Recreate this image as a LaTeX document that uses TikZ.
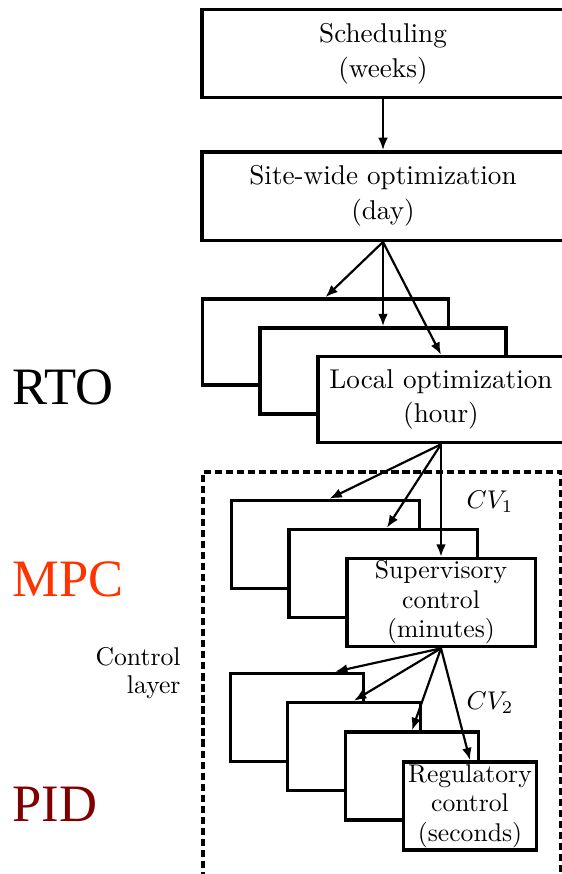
\documentclass[tikz,border=0pt]{standalone}
\usepackage{fontspec}
\usepackage{xcolor}
\usepackage{tikz}
\usepackage{amsmath}
\newfontfamily\levelfont{Liberation Serif}
\definecolor{mpcred}{RGB}{255, 51, 0}
\definecolor{pidred}{RGB}{128, 0, 0}
\usetikzlibrary{arrows.meta, calc}

\begin{document}
\begin{tikzpicture}[
    x=0.39pt, y=-0.39pt,
    box/.style={rectangle, draw, line width=1.35pt, fill=white, inner sep=0pt, align=center},
    topbox/.style={box, minimum width=141.2pt, minimum height=34.5pt, font=\fontsize{10.6}{13.7}\selectfont},
    rtobox/.style={box, minimum width=96pt, minimum height=33.6pt, font=\fontsize{10.6}{13.3}\selectfont},
    mpcbox/.style={box, minimum width=73.5pt, minimum height=34.4pt, font=\fontsize{10}{11.5}\selectfont},
    pidbox/.style={box, minimum width=51.8pt, minimum height=34.4pt, font=\fontsize{10}{11.5}\selectfont},
    link/.style={-{Latex[length=4.8pt, width=3.8pt]}, line width=0.85pt},
    levellabel/.style={font=\levelfont\fontsize{20.5}{24}\selectfont, anchor=west, inner sep=0pt},
    ctrlframe/.style={line width=1.3pt, dash pattern=on 2.8pt off 1.5pt}
]
    \useasboundingbox (0,0) rectangle (562,874);

    \draw[ctrlframe] (203,890) -- (203,472) -- (561,472) -- (561,890);

    \node[topbox] (sched) at (383, 53.5) {Scheduling\\(weeks)};
    \node[topbox] (site) at (383, 196) {Site-wide optimization\\(day)};

    \node[rtobox] (rtoA) at (325.5, 342) {};
    \node[rtobox] (rtoB) at (383, 371) {};
    \node[rtobox] (local) at (441, 399.5) {Local optimization\\(hour)};

    \node[mpcbox] (mpcA) at (325.5, 544.5) {};
    \node[mpcbox] (mpcB) at (383, 573.5) {};
    \node[mpcbox] (superv) at (441, 602.5) {Supervisory\\control\\(minutes)};

    \node[pidbox] (pidA) at (297, 717.5) {};
    \node[pidbox] (pidB) at (354, 746.5) {};
    \node[pidbox] (pidC) at (412, 776) {};
    \node[pidbox] (reg) at (470, 806) {Regulatory\\control\\(seconds)};

    \draw[link] (sched.south) -- (site.north);

    \draw[link] (site.south) -- (rtoA.north);
    \draw[link] (site.south) -- (rtoB.north);
    \draw[link] (site.south) -- (local.north);

    \draw[link] (local.south) -- ($(mpcA.north)+(4,0)$);
    \draw[link] (local.south) -- ($(mpcB.north)+(4,0)$);
    \draw[link] (local.south) -- (superv.north);

    \draw[link] (superv.south) -- ($(pidA.north west)!0.78!(pidA.north east)$);
    \draw[link] (superv.south) -- (pidB.north);
    \draw[link] (superv.south) -- (pidC.north);
    \draw[link] (superv.south) -- (reg.north);

    \node (cv1) at (490, 502) {$CV_1$};
    \node (cv2) at (490, 703) {$CV_2$};

    \node[levellabel] (rto) at (12, 387.5) {RTO};
    \node[levellabel, text=mpcred] (mpc) at (12, 579.5) {MPC};
    \node[levellabel, text=pidred] (pid) at (12, 804.5) {PID};
    \node[align=right, anchor=east, inner sep=0pt, font=\fontsize{10}{11}\selectfont] (ctrl) at (181, 673) {Control\\layer};

\end{tikzpicture}
\end{document}
